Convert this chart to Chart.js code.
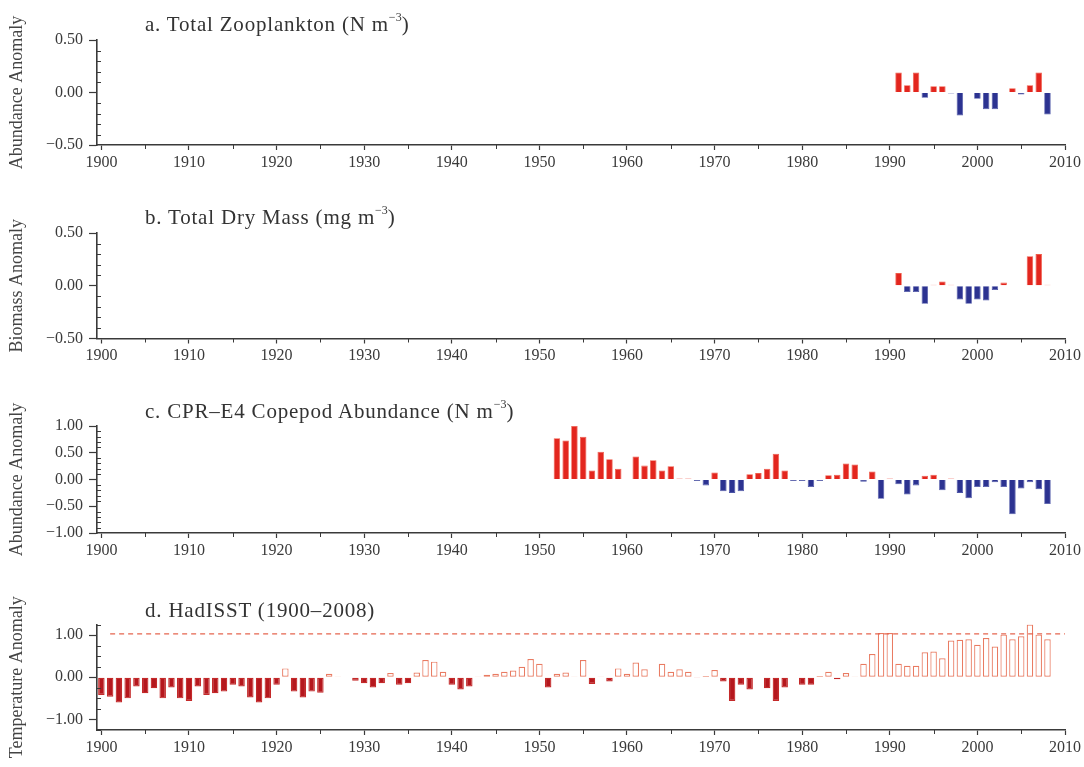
<!DOCTYPE html>
<html><head><meta charset="utf-8">
<script src="https://cdn.jsdelivr.net/npm/chart.js@4.4.0/dist/chart.umd.min.js"></script>
<style>
html,body{margin:0;padding:0;background:#fff;}
#wrap{position:relative;width:1084px;height:767px;overflow:hidden;background:#fff;}
canvas{position:absolute;left:0;}
.ttl{position:absolute;left:145px;font-family:'Liberation Serif','Times New Roman',serif;font-size:21px;letter-spacing:0.8px;line-height:20px;color:#333;white-space:nowrap;}
.ttl sup{font-size:12px;line-height:0;letter-spacing:0;position:relative;top:-2px;}
</style></head><body>
<div id="wrap">
  <canvas id="pa" width="1084" height="192" style="top:0px"></canvas>
  <canvas id="pb" width="1084" height="193" style="top:192px"></canvas>
  <canvas id="pc" width="1084" height="195" style="top:385px"></canvas>
  <canvas id="pd" width="1084" height="187" style="top:580px"></canvas>
  <div class="ttl" style="top:14px">a. Total Zooplankton (N m<sup>−3</sup>)</div>
  <div class="ttl" style="top:207px">b. Total Dry Mass (mg m<sup>−3</sup>)</div>
  <div class="ttl" style="top:401px">c. CPR–E4 Copepod Abundance (N m<sup>−3</sup>)</div>
  <div class="ttl" style="top:600px">d. HadISST (1900–2008)</div>
</div>
<script>
// ---------- DATA ----------
const xTickLabels = [1900, 1910, 1920, 1930, 1940, 1950, 1960, 1970, 1980, 1990, 2000, 2010];
const xMinorTicks = [1905, 1915, 1925, 1935, 1945, 1955, 1965, 1975, 1985, 1995, 2005];

const zooYears  = [1991, 1992, 1993, 1994, 1995, 1996, 1997, 1998, 1999, 2000, 2001, 2002, 2003, 2004, 2005, 2006, 2007, 2008];
const zooValues = [0.19, 0.07, 0.19, -0.05, 0.06, 0.06, -0.01, -0.22, null, -0.06, -0.16, -0.16, null, 0.04, -0.02, 0.07, 0.19, -0.21];

const dryYears  = [1991, 1992, 1993, 1994, 1995, 1996, 1997, 1998, 1999, 2000, 2001, 2002, 2003, 2004, 2005, 2006, 2007, 2008];
const dryValues = [0.12, -0.06, -0.06, -0.17, 0.01, 0.04, 0.01, -0.13, -0.17, -0.13, -0.14, -0.04, 0.03, 0.005, null, 0.28, 0.30, 0.01];

const cprYears = [1952, 1953, 1954, 1955, 1956, 1957, 1958, 1959, 1960, 1961, 1962, 1963, 1964, 1965, 1966, 1967, 1968, 1969,
                  1970, 1971, 1972, 1973, 1974, 1975, 1976, 1977, 1978, 1979, 1980, 1981, 1982, 1983, 1984, 1985, 1986, 1987,
                  1988, 1989, 1990, 1991, 1992, 1993, 1994, 1995, 1996, 1997, 1998, 1999, 2000, 2001, 2002, 2003, 2004, 2005,
                  2006, 2007, 2008];
const cprValues = [0.77, 0.73, 1.00, 0.80, 0.17, 0.52, 0.38, 0.20, null, 0.43, 0.26, 0.36, 0.17, 0.25, 0.02, 0.02, -0.03, -0.11,
                   0.13, -0.22, -0.25, -0.22, 0.10, 0.12, 0.20, 0.48, 0.17, -0.03, -0.03, -0.14, -0.03, 0.08, 0.09, 0.30, 0.28, -0.04,
                   0.15, -0.36, 0.02, -0.09, -0.28, -0.11, 0.07, 0.09, -0.20, 0.02, -0.25, -0.35, -0.14, -0.14, -0.05, -0.14, -0.65, -0.17,
                   -0.05, -0.18, -0.46];

const sstYears = [1900, 1901, 1902, 1903, 1904, 1905, 1906, 1907, 1908, 1909, 1910, 1911, 1912, 1913, 1914, 1915, 1916, 1917, 1918, 1919,
                  1920, 1921, 1922, 1923, 1924, 1925, 1926, 1927, 1928, 1929, 1930, 1931, 1932, 1933, 1934, 1935, 1936, 1937, 1938, 1939,
                  1940, 1941, 1942, 1943, 1944, 1945, 1946, 1947, 1948, 1949, 1950, 1951, 1952, 1953, 1954, 1955, 1956, 1957, 1958, 1959,
                  1960, 1961, 1962, 1963, 1964, 1965, 1966, 1967, 1968, 1969, 1970, 1971, 1972, 1973, 1974, 1975, 1976, 1977, 1978, 1979,
                  1980, 1981, 1982, 1983, 1984, 1985, 1986, 1987, 1988, 1989, 1990, 1991, 1992, 1993, 1994, 1995, 1996, 1997, 1998, 1999,
                  2000, 2001, 2002, 2003, 2004, 2005, 2006, 2007, 2008];
const sstValues = [-0.42, -0.46, -0.60, -0.50, -0.22, -0.38, -0.26, -0.50, -0.24, -0.50, -0.56, -0.22, -0.42, -0.38, -0.34, -0.18, -0.22, -0.48, -0.60, -0.50,
                   -0.18, 0.21, -0.34, -0.48, -0.34, -0.37, 0.08, 0.02, -0.01, -0.08, -0.14, -0.24, -0.14, 0.10, -0.18, -0.14, 0.11, 0.41, 0.37, 0.13,
                   -0.18, -0.29, -0.22, 0.02, 0.06, 0.08, 0.13, 0.16, 0.25, 0.43, 0.32, -0.24, 0.08, 0.11, 0.02, 0.41, -0.16, 0.02, -0.10, 0.21,
                   0.08, 0.35, 0.19, 0.01, 0.32, 0.13, 0.19, 0.13, -0.02, 0.03, 0.17, -0.10, -0.56, -0.18, -0.29, 0.01, -0.26, -0.56, -0.24, 0.01,
                   -0.18, -0.18, 0.03, 0.13, -0.05, 0.10, 0.02, 0.32, 0.55, 1.05, 1.05, 0.32, 0.27, 0.27, 0.59, 0.61, 0.45, 0.87, 0.89, 0.90,
                   0.77, 0.93, 0.73, 1.01, 0.90, 0.97, 1.25, 1.01, 0.90];
const sstThreshold = 1.03;
const sstThresholdSpan = [1901, 2010];

const yTicksHalf = [-0.5, 0, 0.5];
const yTicksCpr  = [-1, -0.5, 0, 0.5, 1];
const yTicksSst  = [-1, 0, 1];
const yMinorHalf = [-0.4, -0.3, -0.2, -0.1, 0.1, 0.2, 0.3, 0.4];
const yMinorCpr  = [-0.9, -0.8, -0.7, -0.6, -0.4, -0.3, -0.2, -0.1, 0.1, 0.2, 0.3, 0.4, 0.6, 0.7, 0.8, 0.9];
const yMinorSst  = [-1.25, -0.75, -0.5, -0.25, 0.25, 0.5, 0.75, 1.25];

// ---------- STYLE ----------
const AXIS = '#3a3a3a';
const FONT = "'Liberation Serif', 'Times New Roman', serif";
const RED = '#e3261e', RED_B = '#ef5a48';
const BLUE = '#2c3391', BLUE_B = '#4b54a6';
const DARK = '#b5171d', DARK_B = '#c42a2a';
const HOLLOW_B = '#e97b62';

const minorTickPlugin = {
  id: 'minorTicks',
  afterDatasetsDraw(chart, args, opts) {
    const {ctx, chartArea: a} = chart;
    const xs = chart.scales.x, ys = chart.scales.y;
    ctx.save();
    ctx.strokeStyle = AXIS; ctx.lineWidth = 1;
    ctx.beginPath();
    (opts.x || []).forEach(v => { const p = Math.round(xs.getPixelForValue(v)) + 0.5; ctx.moveTo(p, a.bottom); ctx.lineTo(p, a.bottom + 4); });
    (opts.y || []).forEach(v => { const p = Math.round(ys.getPixelForValue(v)) + 0.5; ctx.moveTo(a.left, p); ctx.lineTo(a.left + 4, p); });
    ctx.stroke(); ctx.restore();
  }
};

function fmt(v) { return (v < 0 ? '−' : '') + Math.abs(v).toFixed(2); }

function panel(id, o) {
  const barData = o.years.map((yr, i) => ({x: yr, y: o.values[i]}));
  const datasets = [{
    type: 'bar',
    data: barData,
    backgroundColor: o.fill,
    borderColor: o.border,
    borderWidth: o.borderWidth || 0.8,
    borderSkipped: o.borderSkipped === undefined ? 'start' : o.borderSkipped,
    barPercentage: 0.74,
    categoryPercentage: 1,
    order: 2
  }].concat(o.extra || []);
  return new Chart(document.getElementById(id), {
    type: 'bar',
    data: {datasets},
    options: {
      responsive: false, animation: false, devicePixelRatio: 1,
      layout: {padding: {top: o.top, right: 18, left: 0, bottom: 0}},
      plugins: {legend: {display: false}, tooltip: {enabled: false}, title: {display: false},
                minorTicks: {x: xMinorTicks, y: o.yMinor}},
      scales: {
        x: {
          type: 'linear', min: 1899.5, max: 2010, offset: false,
          afterBuildTicks: s => { s.ticks = xTickLabels.map(v => ({value: v})); },
          afterFit: s => { s.height = o.xh; },
          grid: {drawOnChartArea: false, drawTicks: true, tickLength: 5, color: AXIS, tickColor: AXIS, tickWidth: 1.2, offset: false},
          border: {display: true, color: AXIS, width: 1.6},
          ticks: {color: AXIS, font: {family: FONT, size: 16}, padding: 3, maxRotation: 0, autoSkip: false, callback: v => String(v)}
        },
        y: {
          type: 'linear', min: o.yMin, max: o.yMax,
          afterBuildTicks: s => { s.ticks = o.yTicks.map(v => ({value: v})); },
          afterFit: s => { s.width = 97; },
          grid: {drawOnChartArea: false, drawTicks: true, tickLength: 8, color: AXIS, tickColor: AXIS, tickWidth: 1.2},
          border: {display: true, color: AXIS, width: 1.6},
          ticks: {color: AXIS, font: {family: FONT, size: 16}, padding: 6, callback: fmt},
          title: {display: true, text: o.yTitle, color: '#444', font: {family: FONT, size: 18}, padding: {top: 6, bottom: 0}}
        }
      }
    },
    plugins: [minorTickPlugin]
  });
}

const posNeg = c => (c.parsed && c.parsed.y < 0) ? BLUE : RED;
const posNegB = c => (c.parsed && c.parsed.y < 0) ? BLUE_B : RED_B;

panel('pa', {years: zooYears, values: zooValues, yMin: -0.5, yMax: 0.5, yTicks: yTicksHalf, yMinor: yMinorHalf,
  yTitle: 'Abundance Anomaly', top: 40, xh: 47, fill: posNeg, border: posNegB});
panel('pb', {years: dryYears, values: dryValues, yMin: -0.5, yMax: 0.5, yTicks: yTicksHalf, yMinor: yMinorHalf,
  yTitle: 'Biomass Anomaly', top: 41, xh: 46.5, fill: posNeg, border: posNegB});
panel('pc', {years: cprYears, values: cprValues, yMin: -1, yMax: 1, yTicks: yTicksCpr, yMinor: yMinorCpr,
  yTitle: 'Abundance Anomaly', top: 41, xh: 47, fill: posNeg, border: posNegB});
panel('pd', {years: sstYears, values: sstValues, yMin: -1.25, yMax: 1.25, yTicks: yTicksSst, yMinor: yMinorSst,
  yTitle: 'Temperature Anomaly', top: 44.5, xh: 37,
  fill: c => (c.parsed && c.parsed.y < 0) ? DARK : '#ffffff',
  border: c => (c.parsed && c.parsed.y < 0) ? DARK_B : HOLLOW_B,
  borderWidth: 1.2, borderSkipped: false,
  extra: [{
    type: 'line',
    data: sstThresholdSpan.map(yr => ({x: yr, y: sstThreshold})),
    borderColor: '#e5654f', borderWidth: 1.2, borderDash: [5, 4],
    pointRadius: 0, fill: false, order: 1
  }]});
</script>
</body></html>
